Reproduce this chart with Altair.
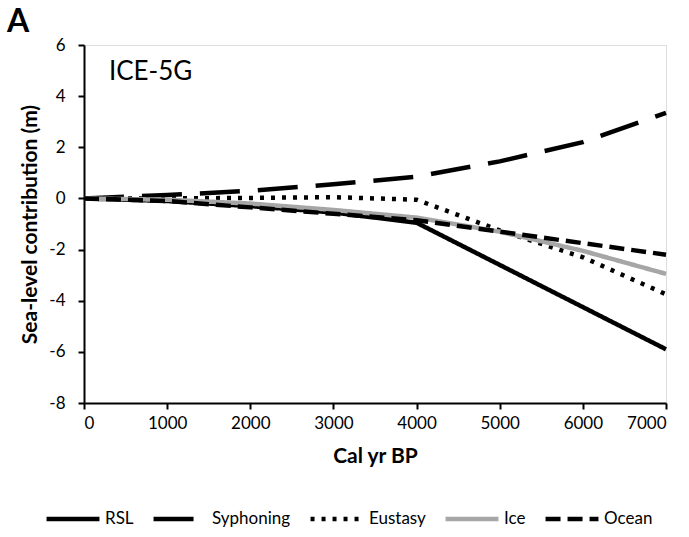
import altair as alt
import pandas as pd

years = [0, 1000, 2000, 3000, 4000, 5000, 6000, 7000]
rsl = [0, -0.1, -0.3, -0.55, -0.95, -2.6, -4.25, -5.9]
syphoning = [0, 0.13, 0.3, 0.55, 0.85, 1.45, 2.2, 3.35]
eustasy = [0, 0.0, 0.02, 0.05, -0.05, -1.25, -2.3, -3.75]
ice = [0, -0.05, -0.2, -0.45, -0.75, -1.3, -2.05, -2.95]
ocean = [0, -0.1, -0.35, -0.6, -0.85, -1.3, -1.75, -2.2]

series_names = ["RSL", "Syphoning", "Eustasy", "Ice", "Ocean"]
series_vals = [rsl, syphoning, eustasy, ice, ocean]

rows = []
for name, vals in zip(series_names, series_vals):
    for x, v in zip(years, vals):
        rows.append({"year": x, "value": v, "series": name})
df = pd.DataFrame(rows)

FONT = "Lato"

def make_legend():
    return alt.Legend(title=None, orient="none", direction="horizontal",
                      legendX=-40, legendY=445, symbolType="stroke",
                      symbolSize=2800, symbolStrokeWidth=4.5,
                      labelFont=FONT, labelFontSize=17, labelColor="black",
                      labelOffset=3, columnPadding=10)

lines = alt.Chart(df).mark_line(strokeWidth=4.5).encode(
    x=alt.X("year:Q", scale=alt.Scale(domain=[0, 7000], nice=False),
            axis=alt.Axis(title="Cal yr BP", values=years, format="d", grid=False,
                          domain=True, domainColor="black", domainWidth=2,
                          ticks=True, tickColor="black", tickWidth=2, tickSize=6,
                          labelFont=FONT, labelFontSize=17, labelColor="black",
                          labelPadding=6, titleFont=FONT, titleFontSize=21,
                          titleFontWeight="bold", titleColor="black", titlePadding=14)),
    y=alt.Y("value:Q", scale=alt.Scale(domain=[-8, 6], nice=False),
            axis=alt.Axis(title="Sea-level contribution (m)", values=[-8, -6, -4, -2, 0, 2, 4, 6],
                          labelExpr="'' + datum.value", grid=False,
                          domain=True, domainColor="black", domainWidth=2,
                          ticks=True, tickColor="black", tickWidth=2, tickSize=6,
                          labelFont=FONT, labelFontSize=17, labelColor="black",
                          labelPadding=13, titleFont=FONT, titleFontSize=21,
                          titleFontWeight="bold", titleColor="black", titlePadding=8)),
    color=alt.Color("series:N", sort=series_names,
                    scale=alt.Scale(domain=series_names,
                                    range=["black", "black", "black", "#a6a6a6", "black"]),
                    legend=make_legend()),
    strokeDash=alt.StrokeDash("series:N", sort=series_names,
                              scale=alt.Scale(domain=series_names,
                                              range=[[1, 0], [40, 18], [4, 7], [1, 0], [15, 7]]),
                              legend=make_legend()),
    order=alt.Order("year:Q"),
)

label_df = pd.DataFrame({"year": [300], "value": [4.95], "text": ["ICE-5G"]})
label = alt.Chart(label_df).mark_text(align="left", baseline="middle", font=FONT,
                                       fontSize=26, color="black").encode(
    x="year:Q", y="value:Q", text="text:N")

chart = alt.layer(lines, label).properties(
    width=582, height=358,
    autosize=alt.AutoSizeParams(type="none"),
    padding={"left": 84, "top": 45, "right": 23, "bottom": 134},
    title=alt.TitleParams("A", anchor="start", frame="group", font=FONT, fontSize=32,
                          fontWeight="bold", color="black", dx=-77, dy=13, offset=10),
).configure_view(stroke=None).configure(background="white")

chart.save("out.html", embed_options={"renderer": "svg", "actions": False})
